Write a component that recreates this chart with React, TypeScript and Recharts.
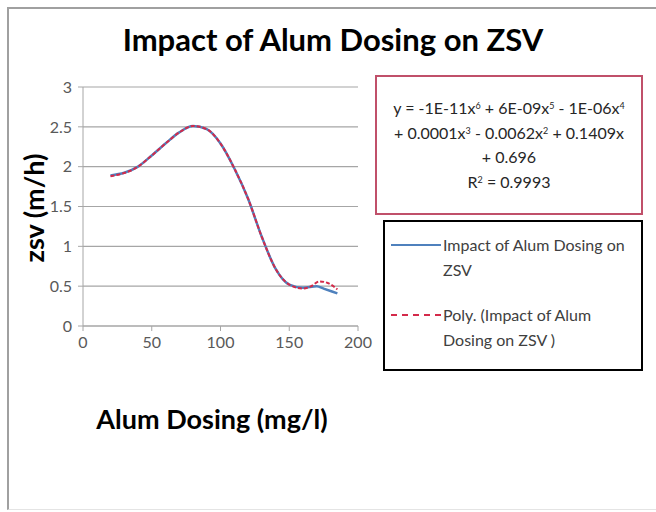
import { LineChart, Line, XAxis, YAxis, CartesianGrid } from "recharts";

const dosing = [20, 40, 50, 60, 70, 80, 90, 100, 110, 120, 130, 140, 150, 160, 170, 175, 185];
const zsv = [1.89, 2.0, 2.14, 2.29, 2.43, 2.51, 2.47, 2.29, 1.98, 1.6, 1.12, 0.72, 0.52, 0.48, 0.5, 0.47, 0.41];

const trendDosing = [20, 40, 50, 60, 70, 80, 90, 100, 110, 120, 130, 140, 150, 160, 166, 172, 178, 185];
const trendZsv = [1.88, 2.0, 2.14, 2.29, 2.43, 2.51, 2.47, 2.29, 1.98, 1.6, 1.12, 0.72, 0.52, 0.47, 0.5, 0.56, 0.54, 0.46];

const xTicks = [0, 50, 100, 150, 200];
const yTicks = [0, 0.5, 1, 1.5, 2, 2.5, 3];

const SUP = { fontSize: 9, verticalAlign: "top", position: "relative" as const, top: -2 };
const equationLines = [
  <>y = -1E-11x<sup style={SUP}>6</sup> + 6E-09x<sup style={SUP}>5</sup> - 1E-06x<sup style={SUP}>4</sup></>,
  <>+ 0.0001x<sup style={SUP}>3</sup> - 0.0062x<sup style={SUP}>2</sup> + 0.1409x</>,
  <>+ 0.696</>,
  <>R<sup style={SUP}>2</sup> = 0.9993</>,
];

const actual = dosing.map((x, i) => ({ x, y: zsv[i] }));
const trend = trendDosing.map((x, i) => ({ x, y: trendZsv[i] }));

const FONT = "Lato, 'Open Sans', sans-serif";
const TICK = { fontSize: 16, fill: "#595959", fontFamily: FONT };
const GRAY = "#a6a6a6";

export default function App() {
  return (
    <div
      style={{
        position: "absolute",
        left: 0,
        top: 0,
        width: 656,
        height: 512,
        background: "#fff",
        fontFamily: FONT,
        overflow: "hidden",
      }}
    >
      <div
        style={{
          position: "absolute",
          left: 7,
          top: 7,
          width: 660,
          height: 500,
          borderLeft: "2px solid #a0a0a0",
          borderTop: "2px solid #a0a0a0",
          borderBottom: "1px solid #e4e4e4",
        }}
      />
      <LineChart
        width={656}
        height={512}
        margin={{ top: 87, right: 298, bottom: 156, left: 23 }}
        style={{ position: "absolute", left: 0, top: 0 }}
      >
        <CartesianGrid horizontal vertical={false} stroke={GRAY} strokeWidth={1.2} />
        <XAxis
          type="number"
          dataKey="x"
          domain={[0, 200]}
          ticks={xTicks}
          height={30}
          tick={TICK}
          tickMargin={6}
          axisLine={{ stroke: GRAY }}
          tickLine={{ stroke: GRAY }}
          tickSize={5}
          allowDuplicatedCategory={false}
        />
        <YAxis
          type="number"
          domain={[0, 3]}
          ticks={yTicks}
          width={60}
          tick={TICK}
          tickMargin={6}
          axisLine={{ stroke: GRAY }}
          tickLine={{ stroke: GRAY }}
          tickSize={5}
        />
        <Line
          data={actual}
          dataKey="y"
          type="monotone"
          stroke="#4f81bd"
          strokeWidth={2.5}
          dot={false}
          isAnimationActive={false}
        />
        <Line
          data={trend}
          dataKey="y"
          type="monotone"
          stroke="#d42a4a"
          strokeWidth={2}
          strokeDasharray="4 2"
          dot={false}
          isAnimationActive={false}
        />
      </LineChart>

      <div
        style={{
          position: "absolute",
          left: 0,
          width: 666,
          top: 20,
          textAlign: "center",
          fontSize: 31,
          fontWeight: 700,
          color: "#000",
        }}
      >
        Impact of Alum Dosing on ZSV
      </div>

      <div
        style={{
          position: "absolute",
          left: 33,
          top: 208,
          transform: "translate(-50%, -50%) rotate(-90deg)",
          whiteSpace: "nowrap",
          fontSize: 27,
          fontWeight: 700,
        }}
      >
        zsv (m/h)
      </div>

      <div
        style={{
          position: "absolute",
          left: 212,
          top: 418,
          transform: "translate(-50%, -50%)",
          whiteSpace: "nowrap",
          fontSize: 27,
          fontWeight: 700,
        }}
      >
        Alum Dosing (mg/l)
      </div>

      <div
        style={{
          position: "absolute",
          left: 375,
          top: 75,
          width: 264,
          height: 136,
          border: "2px solid #c0506a",
          display: "flex",
          flexDirection: "column",
          justifyContent: "center",
          alignItems: "center",
          fontSize: 16,
          lineHeight: "24.5px",
          color: "#262626",
        }}
      >
        {equationLines.map((l, i) => (
          <div key={i} style={{ whiteSpace: "nowrap" }}>
            {l}
          </div>
        ))}
      </div>

      <div
        style={{
          position: "absolute",
          left: 383,
          top: 220,
          width: 256,
          height: 147,
          border: "2px solid #000",
          fontSize: 16,
          lineHeight: "25px",
          color: "#404040",
        }}
      >
        <div style={{ position: "absolute", left: 6, top: 22, width: 50, borderTop: "2.5px solid #4f81bd" }} />
        <div style={{ position: "absolute", left: 58, top: 10, whiteSpace: "nowrap" }}>
          Impact of Alum Dosing on
          <br />
          ZSV
        </div>
        <div style={{ position: "absolute", left: 6, top: 92, width: 50, borderTop: "2px dashed #d42a4a" }} />
        <div style={{ position: "absolute", left: 58, top: 80, whiteSpace: "nowrap" }}>
          Poly. (Impact of Alum
          <br />
          Dosing on ZSV )
        </div>
      </div>
    </div>
  );
}
